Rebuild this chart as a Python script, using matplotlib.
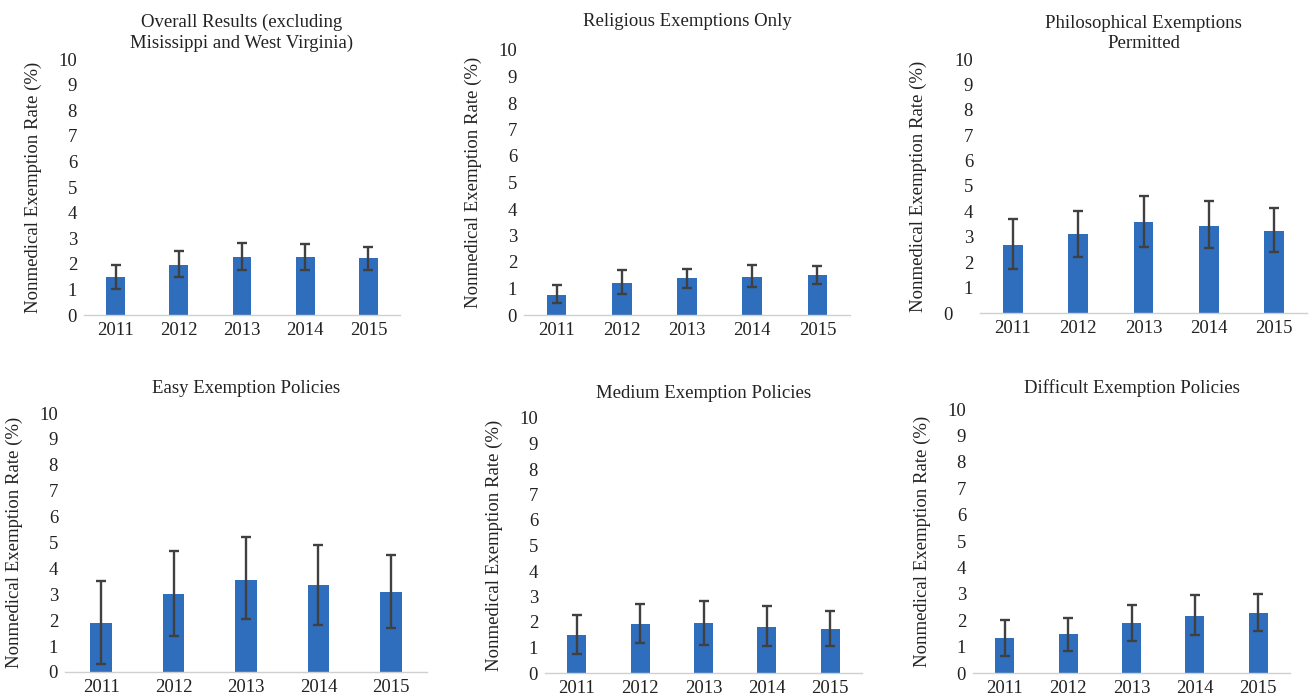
import numpy as np
import matplotlib
matplotlib.use("Agg")
import matplotlib.pyplot as plt
import matplotlib.transforms as mtrans

years = ["2011", "2012", "2013", "2014", "2015"]

titles = [
    "Overall Results (excluding\nMisissippi and West Virginia)",
    "Religious Exemptions Only",
    "Philosophical Exemptions\nPermitted",
    "Easy Exemption Policies",
    "Medium Exemption Policies",
    "Difficult Exemption Policies",
]

# bar heights (%)
overall       = [1.50, 1.97, 2.27, 2.27, 2.22]
religious     = [0.75, 1.22, 1.38, 1.45, 1.50]
philosophical = [2.66, 3.12, 3.60, 3.44, 3.24]
easy          = [1.90, 3.00, 3.57, 3.35, 3.10]
medium        = [1.48, 1.91, 1.95, 1.80, 1.72]
difficult     = [1.32, 1.47, 1.89, 2.15, 2.28]

# error bar ends (lower, upper)
overall_lo       = [1.00, 1.50, 1.75, 1.75, 1.75]
overall_hi       = [1.95, 2.50, 2.80, 2.77, 2.65]
religious_lo     = [0.45, 0.80, 1.03, 1.07, 1.18]
religious_hi     = [1.15, 1.68, 1.75, 1.87, 1.84]
philosophical_lo = [1.72, 2.19, 2.60, 2.55, 2.42]
philosophical_hi = [3.70, 4.03, 4.62, 4.40, 4.12]
easy_lo          = [0.30, 1.38, 2.03, 1.83, 1.70]
easy_hi          = [3.50, 4.67, 5.20, 4.90, 4.50]
medium_lo        = [0.74, 1.18, 1.09, 1.05, 1.05]
medium_hi        = [2.26, 2.70, 2.82, 2.62, 2.42]
difficult_lo     = [0.63, 0.85, 1.20, 1.43, 1.60]
difficult_hi     = [2.00, 2.10, 2.57, 2.97, 3.00]

series = [
    (overall, overall_lo, overall_hi),
    (religious, religious_lo, religious_hi),
    (philosophical, philosophical_lo, philosophical_hi),
    (easy, easy_lo, easy_hi),
    (medium, medium_lo, medium_hi),
    (difficult, difficult_lo, difficult_hi),
]

W, H = 1310, 698
# axes boxes in pixels: left, right, y of 0, y of 10
boxes = [
    (84, 400, 315, 59),
    (524, 850, 315, 50),
    (980, 1307, 313, 59),
    (65, 427, 672, 413),
    (545, 862, 673, 418),
    (973, 1290, 673, 409),
]
title_pads = [8, 17, 8, 14.5, 14.5, 11.5]

plt.rcParams['font.family'] = ['Liberation Serif', 'DejaVu Serif']
blue = '#2F6EBC'
grey = '#404040'
txt = '#222222'

fig = plt.figure(figsize=(W / 100, H / 100), dpi=100)

for i, (vals, lo, hi) in enumerate(series):
    l, r, y0, y10 = boxes[i]
    ax = fig.add_axes([l / W, 1 - y0 / H, (r - l) / W, (y0 - y10) / H])
    x = np.arange(len(years))
    v = np.array(vals)
    err = [v - np.array(lo), np.array(hi) - v]
    ax.bar(x, v, width=0.3, color=blue, zorder=2)
    ax.errorbar(x, v, yerr=err, fmt='none', ecolor=grey, elinewidth=1.7,
                capsize=3.8, capthick=1.7, zorder=3)
    ax.set_xlim(-0.5, len(years) - 0.5)
    ax.set_ylim(0, 10)
    ax.set_yticks(range(0, 11))
    ax.set_xticks(x)
    ax.set_xticklabels(years)
    ax.tick_params(length=0, labelsize=13.5, colors=txt, pad=5)
    for s in ['top', 'right', 'left']:
        ax.spines[s].set_visible(False)
    ax.spines['bottom'].set_color('#d0d0d0')
    ax.spines['bottom'].set_linewidth(1)
    ax.set_ylabel("Nonmedical Exemption Rate (%)", fontsize=13.5,
                  color=txt, labelpad=12)
    ax.set_title(titles[i], fontsize=13.5, color=txt, pad=title_pads[i],
                 linespacing=1.25)
    if i == 2:
        # the zero label sits further left in this panel
        lab = ax.get_yticklabels()[0]
        lab.set_transform(lab.get_transform() +
                          mtrans.ScaledTranslation(-0.2, 0, fig.dpi_scale_trans))

fig.savefig("out.png", dpi=100)
